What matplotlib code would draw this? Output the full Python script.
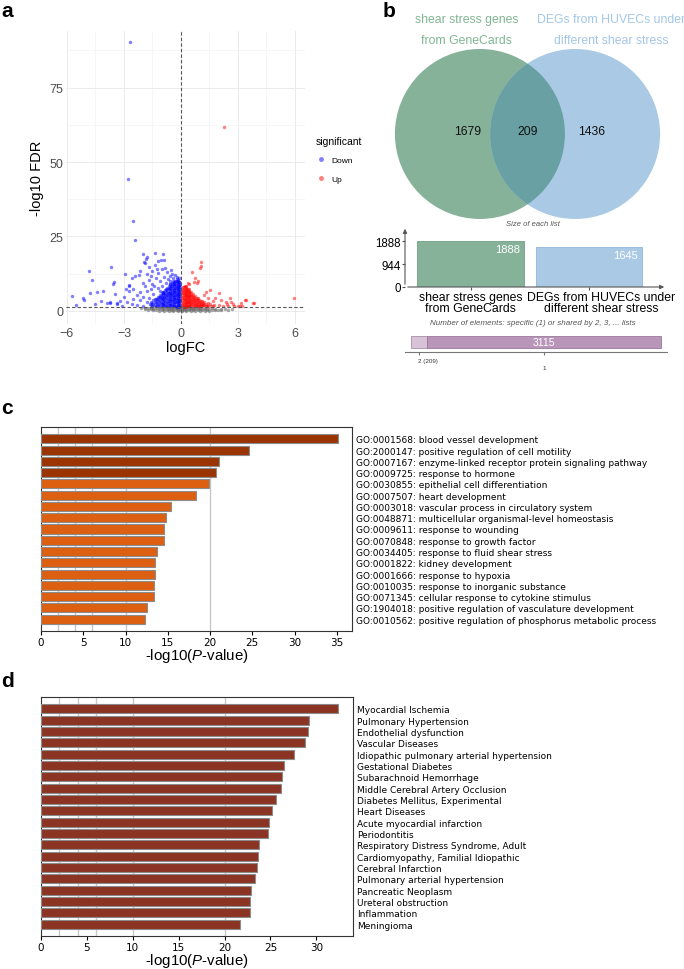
import matplotlib
matplotlib.use("Agg")
import matplotlib.pyplot as plt
from matplotlib.patches import Circle
from matplotlib.lines import Line2D

plt.rcParams["font.family"] = ["Liberation Sans", "DejaVu Sans"]
plt.rcParams["mathtext.fontset"] = "custom"
plt.rcParams["mathtext.rm"] = "Liberation Sans"
plt.rcParams["mathtext.it"] = "Liberation Sans:italic"

# ---- panel a: volcano ----
down_pts = [(-2.67, 90.2), (-2.79, 44.2), (-2.54, 30.2), (-2.40, 23.9), (-1.98, 19.1), (-1.37, 19.5),
            (-0.96, 19.0), (-1.81, 18.0), (-0.89, 17.1), (-1.95, 16.3), (-1.84, 17.4), (-1.05, 17.2),
            (-3.68, 14.8), (-4.82, 13.3), (-4.68, 10.3), (-2.97, 12.3), (-3.53, 9.7), (-3.56, 8.9),
            (-5.72, 5.0), (-5.14, 4.4), (-5.10, 3.5), (-4.79, 5.9), (-4.42, 6.4), (-4.12, 6.8),
            (-4.19, 3.4), (-3.91, 2.8), (-3.49, 5.6), (-3.74, 2.6), (-3.35, 2.5), (-2.74, 8.7),
            (-2.88, 7.4), (-2.75, 6.8), (-2.56, 11.0), (-2.40, 11.6), (-2.21, 12.1), (-1.91, 16.1),
            (-1.35, 15.4), (-1.21, 16.9), (-0.84, 14.3), (-0.49, 12.5), (-2.16, 13.4), (-1.81, 12.5),
            (-1.60, 11.8), (-1.28, 14.1), (-1.00, 14.0), (-0.75, 13.0), (-0.58, 11.8), (-2.72, 8.5),
            (-2.51, 7.4), (-2.16, 6.3), (-1.81, 6.8), (-1.46, 5.7), (-1.10, 6.8), (-2.51, 4.0),
            (-2.16, 3.5), (-1.81, 2.9), (-2.86, 2.9), (-3.38, 2.3), (-3.74, 3.1), (-2.0, 9.5),
            (-1.7, 10.3), (-1.5, 9.0), (-1.3, 11.2), (-1.1, 10.0), (-0.9, 11.5), (-0.7, 10.8),
            (-0.4, 11.0), (-0.3, 12.0), (-1.9, 8.2), (-1.6, 7.5), (-1.4, 8.3), (-1.2, 7.6),
            (-2.3, 5.2), (-2.0, 4.6), (-1.7, 4.2), (-2.6, 2.2), (-2.3, 2.0), (-2.0, 1.8),
            (-3.0, 4.5), (-3.2, 3.4), (-4.5, 2.3), (-5.5, 2.0), (-3.1, 1.8), (-1.0, 8.4),
            (-0.8, 9.3), (-0.6, 10.2), (-1.2, 12.8), (-1.5, 13.3), (-0.2, 11.4), (-0.5, 13.8),
            (-1.7, 14.6)]
down_cols = [(-0.05, [2.0, 3.2, 4.4, 5.6, 6.8, 8.0, 9.2]),
             (-0.08, [1.5, 2.6, 3.8, 5.0, 6.3, 7.4, 8.6, 9.8]),
             (-0.12, [1.4, 2.5, 3.7, 4.9, 6.1, 7.3, 8.5, 9.7, 10.9]),
             (-0.15, [1.9, 3.1, 4.4, 5.7, 6.9, 8.1, 9.3, 10.5]),
             (-0.18, [2.0, 3.2, 4.3, 5.5, 6.7, 7.9, 9.0, 10.2]),
             (-0.22, [1.4, 2.5, 3.6, 4.9, 6.1, 7.3, 8.4, 9.6, 10.6]),
             (-0.26, [1.6, 2.9, 4.1, 5.2, 6.4, 7.6, 8.8, 9.9]),
             (-0.30, [1.8, 3.0, 4.2, 5.4, 6.6, 7.8, 9.0, 10.1]),
             (-0.34, [2.2, 3.5, 4.7, 5.9, 7.1, 8.3, 9.4]),
             (-0.38, [1.5, 2.7, 3.9, 5.1, 6.2, 7.5, 8.7, 9.7]),
             (-0.42, [1.7, 2.9, 4.1, 5.3, 6.5, 7.7, 8.9, 9.9]),
             (-0.46, [2.0, 3.3, 4.6, 5.8, 7.0, 8.2, 9.3]),
             (-0.50, [2.4, 3.6, 4.9, 6.1, 7.3, 8.5]),
             (-0.55, [1.6, 2.8, 4.0, 5.3, 6.5, 7.7, 8.9]),
             (-0.60, [1.9, 3.2, 4.4, 5.6, 6.8, 8.0, 8.9]),
             (-0.64, [2.1, 3.4, 4.7, 5.9, 7.2, 8.3]),
             (-0.68, [2.5, 3.7, 4.9, 6.1, 7.3]),
             (-0.73, [1.5, 2.7, 4.0, 5.2, 6.4, 7.6]),
             (-0.78, [1.8, 3.0, 4.2, 5.4, 6.6, 7.4]),
             (-0.82, [2.0, 3.3, 4.5, 5.8, 7.0]),
             (-0.87, [2.3, 3.6, 4.8, 6.0]),
             (-0.92, [1.6, 2.8, 4.1, 5.3, 6.5]),
             (-0.97, [1.9, 3.1, 4.4, 5.7, 6.3]),
             (-1.02, [2.2, 3.5, 4.8, 6.0]),
             (-1.07, [2.6, 3.9, 5.0]),
             (-1.12, [1.7, 2.9, 4.2, 5.4]),
             (-1.17, [2.1, 3.3, 4.6]),
             (-1.22, [2.3, 3.6, 4.8]),
             (-1.28, [1.6, 2.7, 4.0]),
             (-1.33, [1.8, 3.0, 4.1]),
             (-1.39, [2.1, 3.1, 3.9]),
             (-1.45, [2.4, 3.5]),
             (-1.52, [1.6, 2.6]),
             (-1.58, [1.9, 2.9]),
             (-1.65, [2.2])]
up_pts = [(2.26, 61.6), (5.95, 4.3), (0.58, 13.2), (1.04, 16.3), (1.07, 15.0), (1.02, 14.4),
          (0.75, 11.0), (0.68, 9.8), (0.82, 9.4), (0.45, 9.0), (0.90, 10.2), (1.53, 7.0),
          (1.98, 6.0), (1.81, 4.3), (2.09, 3.8), (2.37, 2.9), (2.58, 4.3), (2.65, 3.1),
          (2.75, 2.3), (3.14, 2.7), (3.42, 3.5), (3.81, 2.6), (3.37, 3.5), (3.84, 2.6),
          (3.10, 1.8), (3.00, 1.6), (3.20, 1.5), (2.20, 1.7), (2.50, 1.6), (1.20, 5.2),
          (1.40, 4.2), (0.35, 9.5), (1.30, 6.3), (1.70, 3.3), (2.00, 2.0), (2.80, 1.6),
          (2.40, 2.3)]
up_cols = [(0.08, [2.0, 3.1, 4.2, 5.3, 6.4, 7.5]),
           (0.12, [1.5, 2.6, 3.7, 4.8, 5.9, 7.0, 8.0]),
           (0.16, [1.4, 2.4, 3.5, 4.6, 5.7, 6.8, 7.9]),
           (0.20, [1.9, 3.0, 4.1, 5.3, 6.4, 7.5, 8.5]),
           (0.24, [2.0, 3.1, 4.2, 5.2, 6.3, 7.4, 8.2]),
           (0.28, [1.4, 2.5, 3.6, 4.7, 5.8, 6.9, 7.9]),
           (0.32, [1.6, 2.7, 3.8, 4.9, 6.0, 7.0]),
           (0.36, [1.8, 2.9, 4.0, 5.1, 6.2, 7.3]),
           (0.40, [2.1, 3.1, 4.2, 5.3, 6.3, 7.2]),
           (0.45, [1.5, 2.5, 3.6, 4.6, 5.7, 6.8]),
           (0.50, [1.6, 2.7, 3.8, 4.9, 5.9]),
           (0.54, [1.9, 2.9, 4.0, 5.1, 6.2]),
           (0.58, [2.2, 3.2, 4.3, 5.4]),
           (0.63, [1.5, 2.5, 3.5, 4.6, 5.6]),
           (0.68, [1.6, 2.6, 3.7, 4.7]),
           (0.73, [1.9, 2.9, 3.9, 5.0]),
           (0.78, [2.1, 3.1, 4.1]),
           (0.83, [1.5, 2.4, 3.4, 4.4]),
           (0.88, [1.6, 2.6, 3.5, 4.2]),
           (0.94, [1.8, 2.8, 3.8]),
           (1.00, [2.0, 3.0]),
           (1.05, [1.5, 2.4, 3.3]),
           (1.11, [1.5, 2.4, 3.2]),
           (1.17, [1.9, 2.8]),
           (1.23, [2.1, 2.9]),
           (1.30, [1.5, 2.4]),
           (1.37, [1.7]),
           (1.45, [1.8, 2.7]),
           (1.52, [2.2]),
           (1.60, [1.5]),
           (1.68, [1.7]),
           (1.75, [2.1])]
ns_cols = [(-2.1, [0.9]), (-1.9, [0.5, 1.1]), (-1.75, [0.3, 0.9]), (-1.6, [0.6, 1.1]),
           (-1.45, [0.2, 0.7, 1.2]), (-1.3, [0.4, 0.9]), (-1.15, [0.1, 0.6, 1.1]),
           (-1.0, [0.3, 0.8, 1.2]), (-0.88, [0.1, 0.5, 1.0]), (-0.76, [0.3, 0.7, 1.2]),
           (-0.64, [0.1, 0.5, 0.9]), (-0.52, [0.3, 0.7, 1.1]), (-0.4, [0.0, 0.4, 0.8, 1.2]),
           (-0.28, [0.2, 0.6, 1.0]), (-0.16, [0.0, 0.4, 0.8, 1.2]), (-0.05, [0.2, 0.6, 1.0]),
           (0.05, [0.0, 0.4, 0.8, 1.2]), (0.16, [0.2, 0.6, 1.0]), (0.28, [0.0, 0.4, 0.8, 1.2]),
           (0.4, [0.2, 0.6, 1.0]), (0.52, [0.1, 0.5, 0.9]), (0.64, [0.3, 0.7, 1.1]),
           (0.76, [0.1, 0.5, 0.9]), (0.88, [0.3, 0.7, 1.1]), (1.0, [0.1, 0.5, 0.9]),
           (1.12, [0.3, 0.7]), (1.25, [0.1, 0.5, 1.0]), (1.38, [0.3, 0.8]), (1.5, [0.1, 0.6]),
           (1.65, [0.4, 0.9]), (1.8, [0.2, 0.7]), (1.95, [0.4]), (2.1, [0.2, 0.8]),
           (2.3, [0.5]), (2.5, [0.3]), (2.7, [0.6])]
fdr_cut = 1.3

# ---- panel b: venn / list sizes ----
list_names = ["shear stress genes\nfrom GeneCards", "DEGs from HUVECs under\ndifferent shear stress"]
venn_counts = [1679, 209, 1436]
list_sizes = [1888, 1645]
shared_count = 209
specific_count = 3115

# ---- panel c: GO terms ----
go_terms = ["GO:0001568: blood vessel development",
            "GO:2000147: positive regulation of cell motility",
            "GO:0007167: enzyme-linked receptor protein signaling pathway",
            "GO:0009725: response to hormone",
            "GO:0030855: epithelial cell differentiation",
            "GO:0007507: heart development",
            "GO:0003018: vascular process in circulatory system",
            "GO:0048871: multicellular organismal-level homeostasis",
            "GO:0009611: response to wounding",
            "GO:0070848: response to growth factor",
            "GO:0034405: response to fluid shear stress",
            "GO:0001822: kidney development",
            "GO:0001666: response to hypoxia",
            "GO:0010035: response to inorganic substance",
            "GO:0071345: cellular response to cytokine stimulus",
            "GO:1904018: positive regulation of vasculature development",
            "GO:0010562: positive regulation of phosphorus metabolic process"]
go_values = [35.1, 24.6, 21.1, 20.7, 19.9, 18.3, 15.4, 14.8, 14.6, 14.5, 13.7, 13.5, 13.5,
             13.4, 13.4, 12.5, 12.3]

# ---- panel d: diseases ----
dis_terms = ["Myocardial Ischemia", "Pulmonary Hypertension", "Endothelial dysfunction",
             "Vascular Diseases", "Idiopathic pulmonary arterial hypertension",
             "Gestational Diabetes", "Subarachnoid Hemorrhage", "Middle Cerebral Artery Occlusion",
             "Diabetes Mellitus, Experimental", "Heart Diseases", "Acute myocardial infarction",
             "Periodontitis", "Respiratory Distress Syndrome, Adult",
             "Cardiomyopathy, Familial Idiopathic", "Cerebral Infarction",
             "Pulmonary arterial hypertension", "Pancreatic Neoplasm", "Ureteral obstruction",
             "Inflammation", "Meningioma"]
dis_values = [32.4, 29.2, 29.1, 28.8, 27.6, 26.5, 26.3, 26.1, 25.6, 25.2, 24.8, 24.7, 23.8,
              23.6, 23.5, 23.3, 22.9, 22.8, 22.8, 21.7]

W, H = 684, 970
fig = plt.figure(figsize=(W / 100, H / 100), dpi=100)


def px_axes(x0, y0, x1, y1):
    return fig.add_axes([x0 / W, 1 - y1 / H, (x1 - x0) / W, (y1 - y0) / H])


def flatten(pts, cols):
    xs = [p[0] for p in pts]
    ys = [p[1] for p in pts]
    for x, col in cols:
        xs += [x] * len(col)
        ys += col
    return xs, ys


# panel a
ax = px_axes(66, 32, 305, 325)
ax.set_xlim(-6.05, 6.53)
ax.set_ylim(-4.4, 94)
for s in ax.spines.values():
    s.set_visible(False)
ax.set_xticks([-6, -3, 0, 3, 6])
ax.set_yticks([0, 25, 50, 75])
ax.set_xticks([-4.5, -1.5, 1.5, 4.5], minor=True)
ax.set_yticks([12.5, 37.5, 62.5, 87.5], minor=True)
ax.grid(which="major", color="#ebebeb", lw=0.7)
ax.grid(which="minor", color="#f2f2f2", lw=0.45)
ax.set_axisbelow(True)
ax.tick_params(which="both", length=0, labelsize=9, labelcolor="#4d4d4d", pad=2)
nx, ny = flatten([], ns_cols)
ax.scatter(nx, ny, s=6, color="#6e6e6e", alpha=0.6, linewidths=0)
dx, dy = flatten(down_pts, down_cols)
ax.scatter(dx, dy, s=6, color="#0000FF", alpha=0.5, linewidths=0)
ux, uy = flatten(up_pts, up_cols)
ax.scatter(ux, uy, s=6, color="#FF0000", alpha=0.5, linewidths=0)
ax.axvline(0, ls=(0, (3, 2)), color="#555555", lw=0.8)
ax.axhline(fdr_cut, ls=(0, (3, 2)), color="#555555", lw=0.8)
ax.set_xlabel("logFC", fontsize=10.5, labelpad=1)
ax.set_ylabel("-log10 FDR", fontsize=10.5, labelpad=4)
handles = [Line2D([], [], marker="o", ls="", color="#0000FF", alpha=0.5, markersize=3.5, mew=0),
           Line2D([], [], marker="o", ls="", color="#FF0000", alpha=0.5, markersize=3.5, mew=0)]
leg = fig.legend(handles, ["Down", "Up"], title="significant", loc="upper left",
                 bbox_to_anchor=(316 / W, 1 - 137 / H), frameon=False, fontsize=6,
                 title_fontsize=7.5, handletextpad=0.7, labelspacing=1.35, borderaxespad=0,
                 borderpad=0, handlelength=1.2)
leg._legend_box.align = "left"
leg._legend_box.sep = 7

# panel b: venn
green, blue = "#87B29A", "#A9C9E4"
vax = px_axes(340, 0, 684, 230)
vax.set_xlim(-2.206, 1.841)
vax.set_ylim(-1.118, 1.588)
vax.axis("off")
gc = Circle((-0.56, 0), 1, fc=green, ec="none")
bc = Circle((0.56, 0), 1, fc=blue, ec="none")
ic = Circle((-0.56, 0), 1, fc="#68A0A4", ec="none")
vax.add_patch(gc)
vax.add_patch(bc)
vax.add_patch(ic)
ic.set_clip_path(bc)
for txt, x, col in [(list_names[0], -0.72, "#80B592"), (list_names[1], 0.98, "#A3C7E8")]:
    for k, line in enumerate(txt.split("\n")):
        vax.text(x, 1.353 - 0.247 * k, line, color=col, ha="center", va="center", fontsize=8.8)
for x, v in zip([-0.70, 0.0, 0.75], venn_counts):
    vax.text(x, 0.035, str(v), ha="center", va="center", fontsize=8.7, color="#111111")

fig.text(533 / W, 1 - 224 / H, "Size of each list", style="italic", fontsize=5.5,
         color="#555555", ha="center", va="center")
bax = px_axes(405, 227, 667, 288)
bax.bar([0, 1], list_sizes, width=0.9, color=[green, blue], edgecolor=["#6f9f84", "#8fb6d8"], lw=0.6)
bax.set_xlim(-0.553, 1.658)
bax.set_ylim(0, 2504)
for s in bax.spines.values():
    s.set_visible(False)
bax.annotate("", xy=(0, 1), xytext=(0, 0), xycoords="axes fraction",
             arrowprops=dict(arrowstyle="-|>", color="#555555", lw=0.8, mutation_scale=6))
bax.annotate("", xy=(1, 0), xytext=(0, 0), xycoords="axes fraction",
             arrowprops=dict(arrowstyle="-|>", color="#555555", lw=0.8, mutation_scale=6))
bax.set_yticks([0, 944, 1888])
bax.set_xticks([0, 1])
bax.set_xticklabels(["", ""])
bax.tick_params(axis="y", labelsize=8.3, length=2, pad=1, color="#555555")
bax.tick_params(axis="x", length=2, color="#555555")
for x, name in zip([0, 1.1], list_names):
    bax.annotate(name, xy=(x, 0), xytext=(0, -3), textcoords="offset points", ha="center",
                 va="top", fontsize=8.8, linespacing=0.9, annotation_clip=False)
for i, v in enumerate(list_sizes):
    bax.annotate(str(v), xy=(i + 0.45, v), xytext=(-3, -2), textcoords="offset points",
                 ha="right", va="top", color="white", fontsize=8)

fig.text(533 / W, 1 - 324 / H, "Number of elements: specific (1) or shared by 2, 3, ... lists",
         style="italic", fontsize=5.8, color="#555555", ha="center", va="center")
sax = px_axes(405, 333, 667, 353)
sax.set_xlim(-80, 3404)
sax.set_ylim(0, 1)
sax.barh(0.5, shared_count, height=0.6, left=0, color="#D8C2D8", edgecolor="#A88FA8", lw=0.6)
sax.barh(0.5, specific_count, height=0.6, left=shared_count, color="#B996B9", edgecolor="#9A789A", lw=0.6)
for k in ["top", "right", "left"]:
    sax.spines[k].set_visible(False)
sax.spines["bottom"].set_color("#777777")
sax.set_yticks([])
sax.set_xticks([shared_count / 2, shared_count + specific_count / 2])
sax.set_xticklabels(["", ""])
sax.tick_params(axis="x", length=2, color="#777777")
sax.text(shared_count + specific_count / 2, 0.5, str(specific_count), color="white",
         ha="center", va="center", fontsize=7.5)
sax.text(shared_count / 2 - 10, -0.45, "2 (%d)" % shared_count, fontsize=4.5, ha="left",
         va="center", clip_on=False, color="#333333")
sax.text(shared_count + specific_count / 2, -0.8, "1", fontsize=4.5, ha="center",
         va="center", clip_on=False, color="#333333")


# panels c, d
def enrich(box, terms, values, colors, xmax, xt):
    a = px_axes(*box)
    n = len(terms)
    for g in [2, 4, 6, 10, 20]:
        a.axvline(g, color="#c8c8c8", lw=1.0, zorder=1)
    a.barh(range(n), values, height=0.8, color=colors, edgecolor="#8c8c8c", lw=0.8, zorder=3)
    a.set_xlim(0, xmax)
    a.set_ylim(n - 1 + 1.04, -1.04)
    a.yaxis.tick_right()
    a.set_yticks(range(n))
    a.set_yticklabels(terms, fontsize=6.5, family="DejaVu Sans")
    a.tick_params(axis="y", length=0, pad=3)
    a.set_xticks(xt)
    a.set_xticklabels([str(v) for v in xt], fontsize=7.5, family="DejaVu Sans")
    a.tick_params(axis="x", length=3, pad=1.5, width=0.8)
    for s in a.spines.values():
        s.set_color("#333333")
        s.set_linewidth(0.8)
    a.set_xlabel(r"-log10($\it{P}$-value)", fontsize=10.8, labelpad=-1)
    return a


go_colors = ["#9A3402" if v > 20 else "#DC5F12" for v in go_values]
enrich((41, 428, 352, 632), go_terms, go_values, go_colors, 36.8, list(range(0, 40, 5)))
enrich((41, 698, 353, 937), dis_terms, dis_values, ["#8C3423"] * len(dis_values), 34.0,
       list(range(0, 35, 5)))

for lab, x, y in [("a", 1, 11.5), ("b", 383, 11.5), ("c", 1, 408), ("d", 1, 682)]:
    fig.text(x / W, 1 - y / H, lab, fontsize=15, weight="bold", ha="left", va="center")

fig.savefig("out.png", dpi=100)
